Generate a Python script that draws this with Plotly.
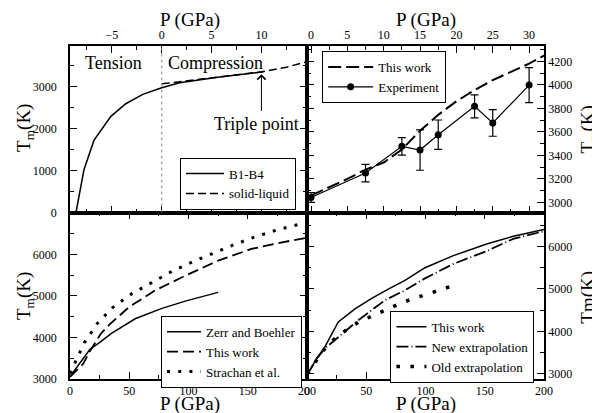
import plotly.graph_objects as go
from plotly.subplots import make_subplots

# ---------------- data ----------------
# Top-left panel (P in GPa, Tm in K)
tl_b1b4_p = [-8.6, -7.8, -6.8, -5.1, -3.6, -1.9, 0.0, 1.8, 5.8, 10.2]
tl_b1b4_t = [0, 1017, 1714, 2286, 2587, 2810, 2968, 3087, 3222, 3345]
tl_sl_p = [0.0, 2.5, 5.0, 7.5, 10.0, 12.5, 14.6]
tl_sl_t = [3060, 3130, 3200, 3280, 3345, 3455, 3590]

# Top-right panel
tr_work_p = [0.0, 5.0, 7.5, 10.0, 12.5, 15.0, 17.5, 20.0, 22.5, 25.0, 27.5, 30.0, 32.1]
tr_work_t = [3060, 3200, 3280, 3340, 3450, 3610, 3745, 3860, 3955, 4040, 4110, 4180, 4250]
tr_exp_p = [0.0, 7.5, 12.5, 15.0, 17.5, 22.5, 25.0, 30.0]
tr_exp_t = [3043, 3250, 3477, 3446, 3576, 3817, 3676, 3998]
tr_exp_err = [42, 74, 74, 172, 125, 98, 113, 149]

# Bottom-left panel
bl_zerr_p = [0, 17, 24, 35, 55, 77, 98, 125]
bl_zerr_t = [3060, 3720, 3860, 4100, 4450, 4695, 4880, 5085]
bl_work_p = [0, 5, 11, 17, 26, 34, 50, 72, 95, 125, 153, 179, 200]
bl_work_t = [3050, 3180, 3360, 3680, 4090, 4330, 4735, 5135, 5455, 5850, 6130, 6290, 6400]
bl_strachan_p = [0, 4, 12, 23, 36, 52, 69, 86, 103, 121, 139, 157, 175, 194, 200]
bl_strachan_t = [3130, 3390, 3870, 4335, 4720, 5050, 5330, 5590, 5815, 6030, 6240, 6430, 6590, 6730, 6780]

# Bottom-right panel
br_work_p = [0, 8.2, 15.2, 26.4, 40.5, 54.6, 68.6, 82.7, 99.6, 123.5, 151.6, 174.1, 200]
br_work_t = [2970, 3367, 3640, 4225, 4530, 4780, 4998, 5200, 5500, 5785, 6060, 6240, 6400]
br_new_p = [0, 8.2, 15.2, 25, 43.3, 65.8, 82.7, 99.6, 123.5, 151.6, 174, 200]
br_new_t = [2970, 3360, 3600, 3835, 4265, 4735, 4970, 5250, 5590, 5890, 6180, 6360]
br_old_p = [0, 9, 15.8, 24.2, 34, 43.9, 54.6, 65.8, 77.1, 87.8, 99.6, 110.8, 122.6]
br_old_t = [3000, 3367, 3625, 3850, 4050, 4225, 4365, 4515, 4640, 4755, 4865, 4970, 5070]

# tick values
tl_xticks = [-5, 0, 5, 10]
tl_yticks = [0, 1000, 2000, 3000]
tr_xticks = [0, 5, 10, 15, 20, 25, 30]
tr_yticks = [3000, 3200, 3400, 3600, 3800, 4000, 4200]
b_xticks = [0, 50, 100, 150, 200]
b_yticks = [3000, 4000, 5000, 6000]

FONT = "Liberation Serif, Times New Roman, Times, serif"
BLACK = "black"

fig = make_subplots(rows=2, cols=2, horizontal_spacing=0, vertical_spacing=0)

# ---- top-left
fig.add_trace(go.Scatter(x=tl_b1b4_p, y=tl_b1b4_t, mode="lines", name="B1-B4",
                         line=dict(color=BLACK, width=1.5), legend="legend"), 1, 1)
fig.add_trace(go.Scatter(x=tl_sl_p, y=tl_sl_t, mode="lines", name="solid-liquid",
                         line=dict(color=BLACK, width=1.5, dash="8px,4px"), legend="legend"), 1, 1)

# ---- top-right
fig.add_trace(go.Scatter(x=tr_work_p, y=tr_work_t, mode="lines", name="This work",
                         line=dict(color=BLACK, width=2, dash="13px,5px"), legend="legend2"), 1, 2)
fig.add_trace(go.Scatter(x=tr_exp_p, y=tr_exp_t, mode="lines+markers", name="Experiment",
                         line=dict(color=BLACK, width=1.2),
                         marker=dict(color=BLACK, size=7, symbol="circle"),
                         error_y=dict(type="data", array=tr_exp_err, color=BLACK,
                                      thickness=1.2, width=4),
                         cliponaxis=False, legend="legend2"), 1, 2)

# ---- bottom-left
fig.add_trace(go.Scatter(x=bl_zerr_p, y=bl_zerr_t, mode="lines", name="Zerr and Boehler",
                         line=dict(color=BLACK, width=1.5), legend="legend3"), 2, 1)
fig.add_trace(go.Scatter(x=bl_work_p, y=bl_work_t, mode="lines", name="This work",
                         line=dict(color=BLACK, width=1.8, dash="11px,5px"), legend="legend3"), 2, 1)
fig.add_trace(go.Scatter(x=bl_strachan_p, y=bl_strachan_t, mode="lines", name="Strachan et al.",
                         line=dict(color=BLACK, width=3, dash="3px,8.2px"), legend="legend3"), 2, 1)

# ---- bottom-right
fig.add_trace(go.Scatter(x=br_work_p, y=br_work_t, mode="lines", name="This work",
                         line=dict(color=BLACK, width=1.5), legend="legend4"), 2, 2)
fig.add_trace(go.Scatter(x=br_new_p, y=br_new_t, mode="lines", name="New extrapolation",
                         line=dict(color=BLACK, width=1.8, dash="12px,3px,1px,3px"),
                         legend="legend4"), 2, 2)
fig.add_trace(go.Scatter(x=br_old_p, y=br_old_t, mode="lines", name="Old extrapolation",
                         line=dict(color=BLACK, width=3.5, dash="3.5px,10.5px"),
                         legend="legend4"), 2, 2)

axis_common = dict(showline=True, linecolor=BLACK, linewidth=1.5, mirror="allticks",
                   ticks="inside", ticklen=7, tickwidth=1, tickcolor=BLACK,
                   showgrid=False, zeroline=False, automargin=False,
                   tickfont=dict(family=FONT, size=12, color=BLACK))
minor_common = dict(ticks="inside", ticklen=4, tickwidth=1, tickcolor=BLACK, showgrid=False)

# TL
fig.update_xaxes(axis_common, row=1, col=1, range=[-9.2, 14.57], side="top",
                 tickvals=tl_xticks, minor=dict(minor_common, dtick=2.5))
fig.update_yaxes(axis_common, row=1, col=1, range=[0, 3960], tickvals=tl_yticks,
                 minor=dict(minor_common, dtick=500), ticklabelstandoff=9)
# TR
fig.update_xaxes(axis_common, row=1, col=2, range=[-0.55, 32.05], side="top",
                 tickvals=tr_xticks, minor=dict(minor_common, dtick=2.5))
fig.update_yaxes(axis_common, row=1, col=2, range=[2915, 4330], side="right",
                 tickvals=tr_yticks, minor=dict(minor_common, dtick=100))
# BL
fig.update_xaxes(axis_common, row=2, col=1, range=[0, 200], tickvals=b_xticks,
                 minor=dict(minor_common, dtick=25))
fig.update_yaxes(axis_common, row=2, col=1, range=[3000, 7008], tickvals=b_yticks,
                 minor=dict(minor_common, dtick=500), ticklabelstandoff=9)
# BR
fig.update_xaxes(axis_common, row=2, col=2, range=[0, 200], tickvals=b_xticks,
                 minor=dict(minor_common, dtick=25))
fig.update_yaxes(axis_common, row=2, col=2, range=[2880, 6800], side="right",
                 tickvals=b_yticks, minor=dict(minor_common, dtick=500))

# dotted vertical line at P = 0 in the top-left panel
fig.add_shape(type="line", xref="x", yref="y domain", x0=0, x1=0, y0=0, y1=1,
              line=dict(color="#888888", width=1, dash="dot"))

title_font = dict(family=FONT, size=19, color=BLACK)
ann_font = dict(family=FONT, size=18, color=BLACK)

# axis titles (paper coordinates)
for tx, ty, txt, ang in [
    (0.253, 1.078, "P (GPa)", 0),
    (0.750, 1.078, "P (GPa)", 0),
    (0.253, -0.075, "P (GPa)", 0),
    (0.750, -0.075, "P (GPa)", 0),
    (-0.095, 0.754, "T<sub>m</sub>(K)", -90),
    (-0.095, 0.249, "T<sub>m</sub>(K)", -90),
    (1.094, 0.748, "T<sub>m</sub>(K)", -90),
    (1.094, 0.246, "Tm(K)", -90),
]:
    fig.add_annotation(xref="paper", yref="paper", x=tx, y=ty, text=txt, textangle=ang,
                       showarrow=False, xanchor="center", yanchor="middle", font=title_font)

fig.add_annotation(xref="x", yref="y", x=-7.9, y=3548, text="Tension", showarrow=False,
                   xanchor="left", yanchor="middle", font=ann_font)
fig.add_annotation(xref="x", yref="y", x=0.4, y=3548, text="Compression", showarrow=False,
                   xanchor="left", yanchor="middle", font=ann_font)
fig.add_annotation(xref="x", yref="y", x=5.0, y=2095, text="Triple point", showarrow=False,
                   xanchor="left", yanchor="middle", font=ann_font)
fig.add_annotation(xref="x", yref="y", axref="x", ayref="y", x=10, y=3290, ax=10, ay=2380,
                   text="", showarrow=True, arrowhead=4, arrowsize=1.6, arrowwidth=1,
                   arrowcolor=BLACK)

leg_common = dict(bgcolor="white", bordercolor=BLACK, borderwidth=1,
                  font=dict(family=FONT, size=13, color=BLACK),
                  xanchor="left", yanchor="top", tracegroupgap=0)
# the page adds an 8px body margin; margins are offset to compensate
fig.update_layout(
    width=600, height=413,
    margin=dict(l=62, r=64, t=38, b=42),
    paper_bgcolor="white", plot_bgcolor="white",
    font=dict(family=FONT, color=BLACK),
    legend=dict(leg_common, x=0.232, y=0.665, itemwidth=38),
    legend2=dict(leg_common, x=0.532, y=0.985, itemwidth=45),
    legend3=dict(leg_common, x=0.192, y=0.19, itemwidth=34),
    legend4=dict(leg_common, x=0.676, y=0.205, itemwidth=30),
)

fig.write_html("out.html")
